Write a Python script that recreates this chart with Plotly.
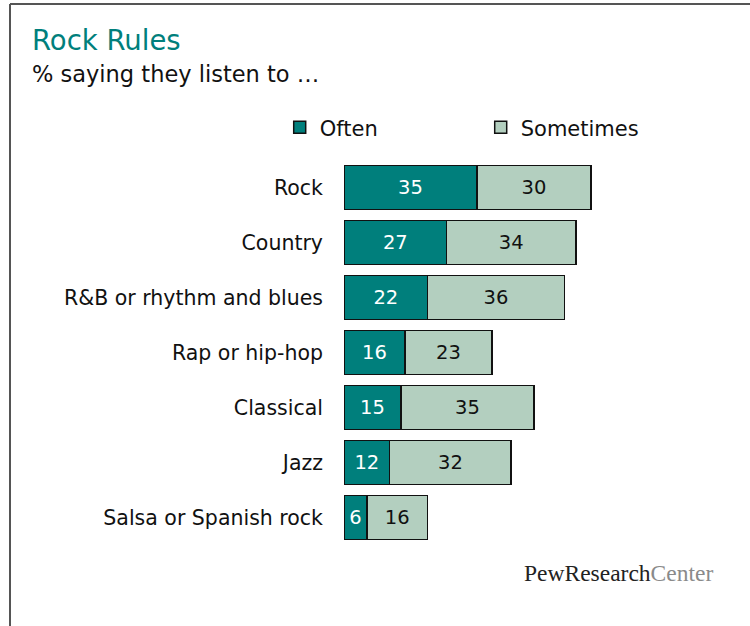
import plotly.graph_objects as go

categories = ["Rock", "Country", "R&B or rhythm and blues", "Rap or hip-hop",
              "Classical", "Jazz", "Salsa or Spanish rock"]
often = [35, 27, 22, 16, 15, 12, 6]
sometimes = [30, 34, 36, 23, 35, 32, 16]

TEAL = "#007F7C"
SAGE = "#B3CFBF"
FONT = "DejaVu Sans"

fig = go.Figure()
fig.add_trace(go.Bar(
    y=categories, x=often, name="Often", orientation="h",
    marker=dict(color=TEAL, line=dict(color="#111111", width=1.5)),
    text=[str(v) for v in often], textposition="inside", insidetextanchor="middle",
    textangle=0, textfont=dict(color="white", size=19.5, family=FONT),
    hoverinfo="skip",
))
fig.add_trace(go.Bar(
    y=categories, x=sometimes, name="Sometimes", orientation="h",
    marker=dict(color=SAGE, line=dict(color="#111111", width=1.5)),
    text=[str(v) for v in sometimes], textposition="inside", insidetextanchor="middle",
    textangle=0, textfont=dict(color="#111111", size=19.5, family=FONT),
    hoverinfo="skip",
))

fig.update_layout(
    width=750, height=626,
    barmode="stack", bargap=0.2,
    plot_bgcolor="white", paper_bgcolor="white",
    margin=dict(l=344, r=64, t=160, b=81),
    font=dict(family=FONT, size=19, color="#111111"),
    uniformtext=dict(minsize=19, mode="show"),
    xaxis=dict(range=[0, 90], visible=False, fixedrange=True),
    yaxis=dict(autorange="reversed", showgrid=False, showline=False, zeroline=False,
               ticks="", ticklabelstandoff=20, fixedrange=True,
               tickfont=dict(family=FONT, size=20.5, color="#111111")),
    showlegend=True,
    legend=dict(orientation="h", traceorder="normal", x=-0.188, xanchor="left",
                y=1.084, yanchor="middle",
                entrywidth=156, font=dict(family=FONT, size=21, color="#111111"),
                bgcolor="rgba(0,0,0,0)", itemclick=False, itemdoubleclick=False),
    annotations=[
        dict(text="Rock Rules", xref="paper", yref="paper", x=(30-344)/342, y=1.0 + (160-40)/385,
             xanchor="left", yanchor="middle", showarrow=False,
             font=dict(family=FONT, size=27.5, color=TEAL)),
        dict(text="% saying they listen to …", xref="paper", yref="paper",
             x=(30-344)/342, y=1.0 + (160-74)/385, xanchor="left", yanchor="middle",
             showarrow=False, font=dict(family=FONT, size=22.5, color="#111111")),
        dict(text="PewResearch<span style='color:#8a8a8a'>Center</span>",
             xref="paper", yref="paper", x=1.0 + (715-686)/342, y=-(573-545)/385,
             xanchor="right", yanchor="middle", showarrow=False,
             font=dict(family="Liberation Serif", size=23.5, color="#222222")),
    ],
    shapes=[
        dict(type="line", xref="paper", yref="paper",
             x0=(10-344)/342, x1=(760-344)/342, y0=1.0 + (160-4)/385, y1=1.0 + (160-4)/385,
             line=dict(color="#555555", width=2)),
        dict(type="line", xref="paper", yref="paper",
             x0=(10-344)/342, x1=(10-344)/342, y0=1.0 + (160-4)/385, y1=-(640-545)/385,
             line=dict(color="#555555", width=2)),
    ],
)

fig.write_html("out.html",
               config={"displayModeBar": False, "staticPlot": True},
               post_script="document.body.style.margin='0';document.body.style.overflow='hidden';")
